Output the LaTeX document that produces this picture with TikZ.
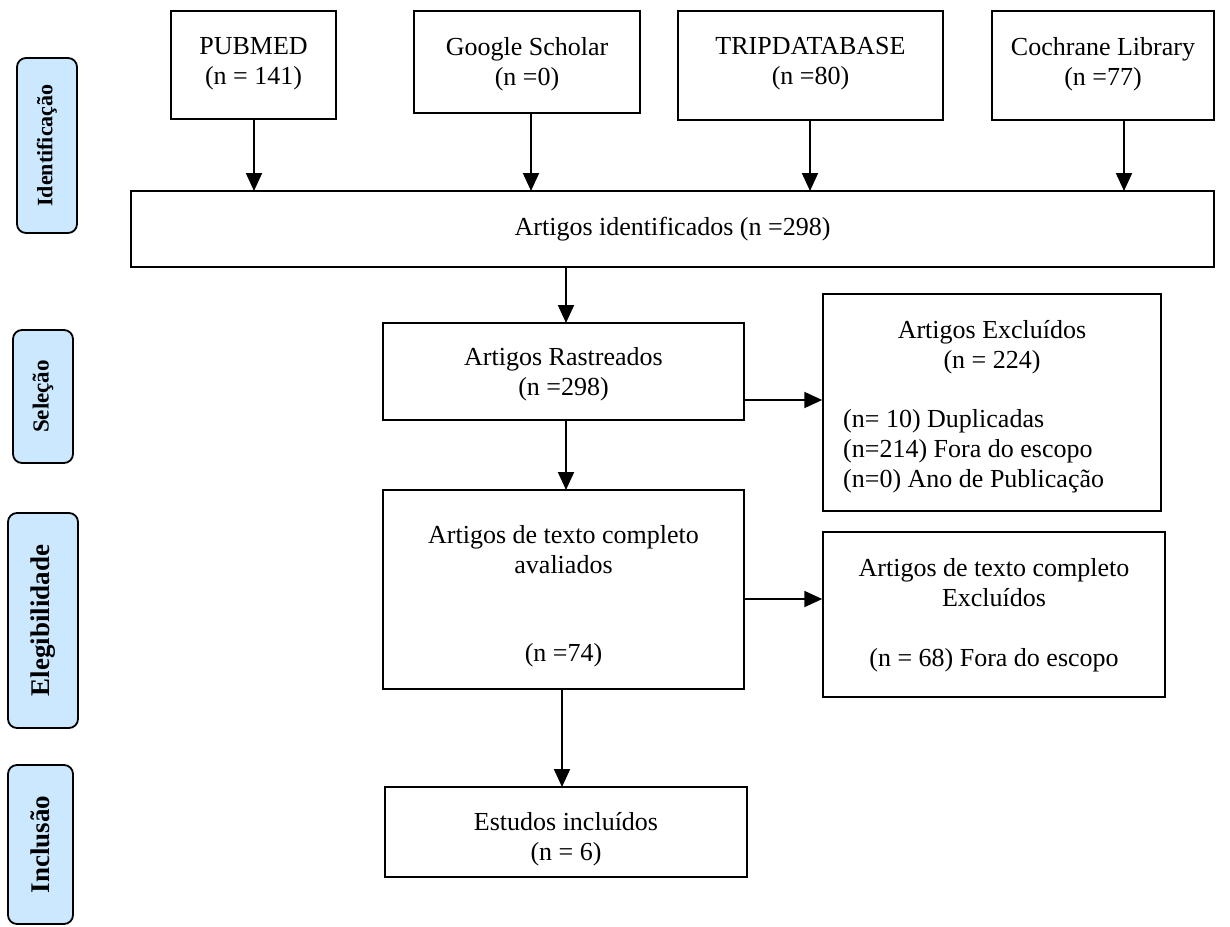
\documentclass[tikz,border=0pt]{standalone}
\usepackage{fontspec}
\setmainfont{Liberation Serif}
\usetikzlibrary{arrows.meta}
\begin{document}
\begin{tikzpicture}[x=1pt,y=-1pt,
  box/.style={draw=black,line width=1.5pt,inner sep=0pt},
  lbl/.style={draw=black,line width=1.8pt,fill=lblue,rounded corners=9pt},
  txt/.style={font=\fontsize{26}{30}\selectfont,align=center,inner sep=0pt},
  side/.style={font=\bfseries\fontsize{#1}{#1}\selectfont,rotate=90,inner sep=0pt},
  arr/.style={line width=2pt,-{Triangle[length=18pt,width=16pt]}}]
\definecolor{lblue}{HTML}{CCE8FF}
\useasboundingbox (0,0) rectangle (1230,926);
% side labels
\draw[lbl] (17,58) rectangle (77,233);
\node[side=22] (lid) at (47,145.5) {Identificação};
\draw[lbl] (13,330) rectangle (73,463);
\node[side=23] (lse) at (43,396.5) {Seleção};
\draw[lbl] (8,513) rectangle (78,728);
\node[side=27] (lel) at (43,620.5) {Elegibilidade};
\draw[lbl] (8,765) rectangle (73,924);
\node[side=27] (lin) at (40.5,844.5) {Inclusão};
% top boxes
\node[box,minimum width=165pt,minimum height=108pt] (pub) at (253.5,65) {};
\node[txt] (pubt) at (253.5,64) {PUBMED\\(n = 141)};
\node[box,minimum width=226pt,minimum height=102pt] (goo) at (527,62) {};
\node[txt] (goot) at (527,64) {Google Scholar\\(n =0)};
\node[box,minimum width=265pt,minimum height=109pt] (tri) at (810.5,65.5) {};
\node[txt] (trit) at (810.5,64) {TRIPDATABASE\\(n =80)};
\node[box,minimum width=222pt,minimum height=109pt] (coc) at (1103,65.5) {};
\node[txt] (coct) at (1103,64) {Cochrane Library\\(n =77)};
% identified
\node[box,minimum width=1083pt,minimum height=76pt] (ide) at (672.5,229) {};
\node[txt] (idet) at (672.5,229) {Artigos identificados (n =298)};
\coordinate (a1) at (254,191);
\coordinate (a2) at (531,191);
\coordinate (a3) at (810,191);
\coordinate (a4) at (1124,191);
\draw[arr] (pub.south -| a1) -- (a1);
\draw[arr] (goo.south -| a2) -- (a2);
\draw[arr] (tri.south -| a3) -- (a3);
\draw[arr] (coc.south -| a4) -- (a4);
% screening
\node[box,minimum width=361pt,minimum height=97pt] (ras) at (563.5,371.5) {};
\node[txt] (rast) at (563.5,374) {Artigos Rastreados\\(n =298)};
\node[box,minimum width=338pt,minimum height=217pt] (exc) at (992,402.5) {};
\node[txt] (exct1) at (992,347) {Artigos Excluídos\\(n = 224)};
\node[txt,align=left,anchor=west] (exct2) at (843,451) {(n= 10) Duplicadas\\(n=214) Fora do escopo\\(n=0) Ano de Publicação};
\draw[arr] (566,267) -- (566,323);
\draw[arr] (ras.east |- 0,400) -- (exc.west |- 0,400);
% eligibility
\node[box,minimum width=361pt,minimum height=199pt] (com) at (563.5,589.5) {};
\node[txt] (comt1) at (563.5,550) {Artigos de texto completo\\avaliados};
\node[txt] (comt2) at (563.5,655) {(n =74)};
\node[box,minimum width=342pt,minimum height=165pt] (cex) at (994,614.5) {};
\node[txt] (cext1) at (994,583) {Artigos de texto completo\\Excluídos};
\node[txt] (cext2) at (994,660) {(n = 68) Fora do escopo};
\draw[arr] (566,420) -- (566,490);
\draw[arr] (com.east |- 0,599) -- (cex.west |- 0,599);
% inclusion
\node[box,minimum width=362pt,minimum height=90pt] (est) at (566,832) {};
\node[txt] (estt) at (566,839) {Estudos incluídos\\(n = 6)};
\draw[arr] (562,689) -- (562,787);
\end{tikzpicture}
\end{document}
